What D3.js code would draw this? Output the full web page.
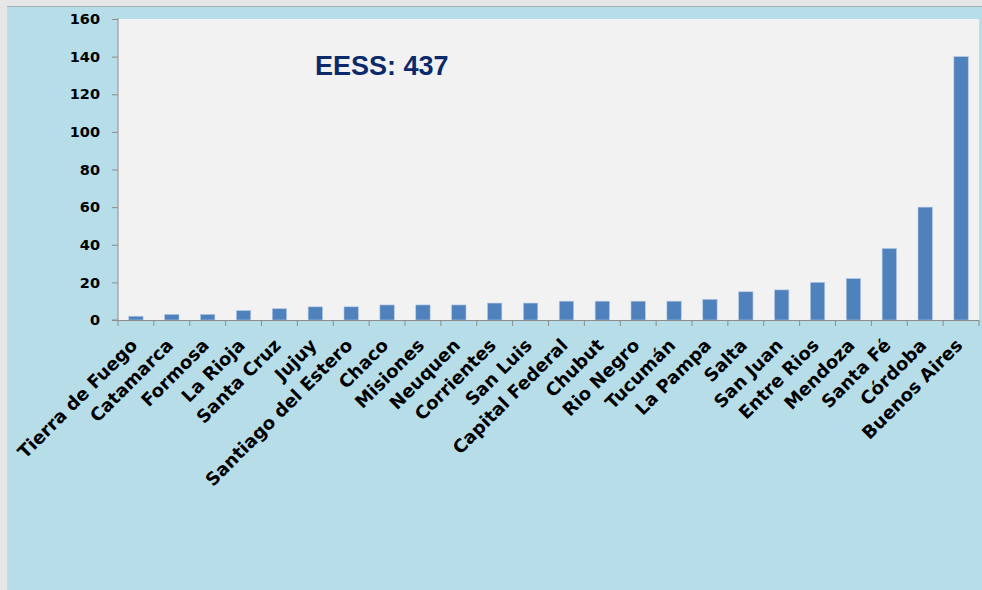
<!DOCTYPE html>
<html>
<head>
<meta charset="utf-8">
<script src="https://cdn.jsdelivr.net/npm/d3@7"></script>
<style>
  html, body { margin: 0; padding: 0; background: #e6e6e6; }
  svg { display: block; }
</style>
</head>
<body>
<svg id="chart" width="982" height="590"></svg>
<script>
// Estaciones de servicio por provincia
const provinces = ["Tierra de Fuego", "Catamarca", "Formosa", "La Rioja", "Santa Cruz", "Jujuy",
  "Santiago del Estero", "Chaco", "Misiones", "Neuquen", "Corrientes", "San Luis",
  "Capital Federal", "Chubut", "Rio Negro", "Tucumán", "La Pampa", "Salta", "San Juan",
  "Entre Rios", "Mendoza", "Santa Fé", "Córdoba", "Buenos Aires"];
const stations = [2, 3, 3, 5, 6, 7, 7, 8, 8, 8, 9, 9, 10, 10, 10, 10, 11, 15, 16, 20, 22, 38, 60, 140];
const yTicks = [0, 20, 40, 60, 80, 100, 120, 140, 160];
const totalLabel = "EESS: " + d3.sum(stations);

const svg = d3.select("#chart");
const W = 982, H = 590;
const plot = { left: 118, right: 979, top: 19, bottom: 320 };

// panel background
svg.append("rect").attr("x", 7).attr("y", 6).attr("width", W - 7).attr("height", H - 6)
  .attr("fill", "#b7dde8");
svg.append("line").attr("x1", 7).attr("x2", W).attr("y1", 6.5).attr("y2", 6.5)
  .attr("stroke", "#a3b2b8").attr("stroke-width", 1);

// plot area
svg.append("rect").attr("x", plot.left).attr("y", plot.top)
  .attr("width", plot.right - plot.left).attr("height", plot.bottom - plot.top)
  .attr("fill", "#f2f2f2");

const x = d3.scaleBand().domain(provinces).range([plot.left, plot.right]).padding(0);
const y = d3.scaleLinear().domain([0, 160]).range([plot.bottom, plot.top]);
const barW = x.bandwidth() / 2.5;

// bars
svg.append("g").selectAll("rect").data(stations).join("rect")
  .attr("x", (d, i) => x(provinces[i]) + (x.bandwidth() - barW) / 2)
  .attr("y", d => y(d))
  .attr("width", barW)
  .attr("height", d => y(0) - y(d))
  .attr("fill", "#4f81bd")
  .attr("stroke", "#b3c9e3")
  .attr("stroke-width", 0.6);

// y axis
const yAxis = svg.append("g").attr("transform", `translate(${plot.left},0)`)
  .call(d3.axisLeft(y).tickValues(yTicks).tickSize(6).tickPadding(12));
yAxis.select(".domain").attr("stroke", "#8c8c8c").attr("d", `M-6,${plot.bottom}H0V${plot.top - 1}`);
yAxis.selectAll(".tick line").attr("stroke", "#8c8c8c");
yAxis.selectAll(".tick text")
  .attr("font-family", "'DejaVu Sans', sans-serif")
  .attr("font-weight", "bold").attr("font-size", 14.5).attr("fill", "#000");

// x axis: tick marks at category boundaries
const xg = svg.append("g");
xg.append("line").attr("x1", plot.left).attr("x2", plot.right)
  .attr("y1", plot.bottom + 0.5).attr("y2", plot.bottom + 0.5).attr("stroke", "#8c8c8c");
const bounds = provinces.map(p => x(p)).concat([plot.right]);
xg.selectAll("line.tk").data(bounds).join("line").attr("class", "tk")
  .attr("x1", d => d).attr("x2", d => d)
  .attr("y1", plot.bottom).attr("y2", plot.bottom + 6)
  .attr("stroke", "#8c8c8c");

// rotated category labels
xg.selectAll("text").data(provinces).join("text")
  .attr("transform", d => `translate(${x(d) + x.bandwidth() / 2 - 2},${plot.bottom + 22}) rotate(-45)`)
  .attr("text-anchor", "end")
  .attr("dy", "0.35em")
  .attr("font-family", "'DejaVu Sans', sans-serif")
  .attr("font-weight", "bold").attr("font-size", 18).attr("fill", "#000")
  .text(d => d);

// total annotation
svg.append("text").attr("x", 315).attr("y", 75)
  .attr("font-family", "'Liberation Sans', Arial, sans-serif")
  .attr("font-weight", "bold").attr("font-size", 27).attr("fill", "#0b2a6b")
  .text(totalLabel);
</script>
</body>
</html>
